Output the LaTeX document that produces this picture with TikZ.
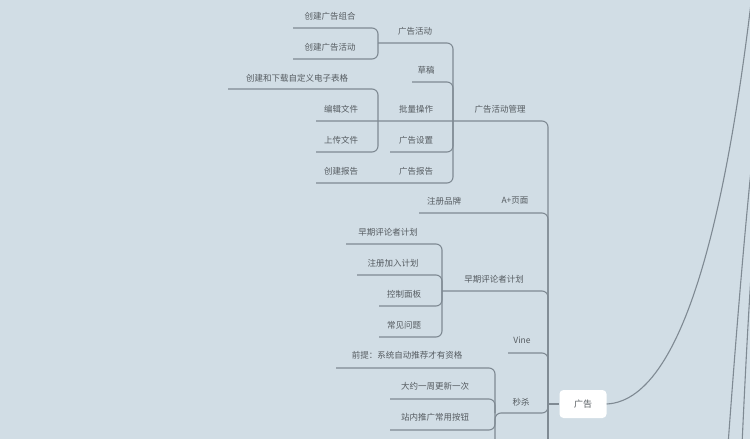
\documentclass[tikz,border=0pt]{standalone}
\usepackage{fontspec}
\newfontfamily\cjk{Noto Sans CJK SC}
\definecolor{bgcol}{HTML}{D1DDE5}
\definecolor{linecol}{HTML}{7F8A93}
\definecolor{txtcol}{HTML}{555B60}
\begin{document}
\begin{tikzpicture}[x=1pt,y=-1pt,
  lbl/.style={text=txtcol,font=\cjk\fontsize{8.5}{10}\selectfont,inner sep=0pt},
  link/.style={draw=linecol,line width=1.1pt,rounded corners=6pt},
  hub/.style={fill=white,rounded corners=4pt,minimum width=47pt,minimum height=28pt,text=txtcol,font=\cjk\fontsize{9}{11}\selectfont}]
			\fill[bgcol] (0,0) rectangle (750,439);
			\useasboundingbox (0,0) rectangle (750,439);

			% labels
			\node[lbl] (zuhe) at (330,16) {创建广告组合};
			\node[lbl] (huodong) at (330,47) {创建广告活动};
			\node[lbl] (ggActivity) at (415,31) {广告活动};
			\node[lbl] (caogao) at (426,70) {草稿};
			\node[lbl] (xiazai) at (297,78) {创建和下载自定义电子表格};
			\node[lbl] (bianji) at (341,109) {编辑文件};
			\node[lbl] (piliang) at (416,109) {批量操作};
			\node[lbl] (guanli) at (500,109) {广告活动管理};
			\node[lbl] (shangchuan) at (341,140) {上传文件};
			\node[lbl] (shezhi) at (416,140) {广告设置};
			\node[lbl] (cjBaogao) at (341,171) {创建报告};
			\node[lbl] (baogao) at (416,171) {广告报告};
			\node[lbl] (pinpai) at (444,201) {注册品牌};
			\node[lbl] (aplus) at (515,201) {A+页面};
			\node[lbl] (zaoqi) at (388,232) {早期评论者计划};
			\node[lbl] (jiaru) at (393,263) {注册加入计划};
			\node[lbl] (zaoqiMain) at (494,279) {早期评论者计划};
			\node[lbl] (mianban) at (404,294) {控制面板};
			\node[lbl] (wenti) at (404,325) {常见问题};
			\node[lbl] (vine) at (522,340) {Vine};
			\node[lbl] (qianti) at (407,355) {前提：系统自动推荐才有资格};
			\node[lbl] (gengxin) at (435,386) {大约一周更新一次};
			\node[lbl] (miaosha) at (521,402) {秒杀};
			\node[lbl] (anniu) at (435,417) {站内推广常用按钮};
			\node[hub] (ad) at (583,404) {广告};

			% branches
			\draw[link] (293,28) -- (378,28) -- (378,43);
			\draw[link] (293,59) -- (378,59) -- (378,43);
			\draw[link] (378,43) -- (453,43) -- (453,121);
			\draw[link] (412,82) -- (453,82) -- (453,121);
			\draw[link] (228,89) -- (378,89) -- (378,121);
			\draw[link] (316,152) -- (378,152) -- (378,121);
			\draw[link] (316,121) -- (548,121) -- (548,404);
			\draw[link] (390,152) -- (453,152) -- (453,121);
			\draw[link] (316,183) -- (453,183) -- (453,121);
			\draw[link] (419,213) -- (548,213) -- (548,404);
			\draw[link] (346,244) -- (442,244) -- (442,291);
			\draw[link] (357,275) -- (442,275) -- (442,291);
			\draw[link] (379,306) -- (442,306) -- (442,291);
			\draw[link] (379,337) -- (442,337) -- (442,291);
			\draw[link] (442,291) -- (548,291) -- (548,404);
			\draw[link] (508,353) -- (548,353) -- (548,404);
			\draw[link] (336,368) -- (495,368) -- (495,413);
			\draw[link] (390,399) -- (495,399) -- (495,413);
			\draw[link] (390,430) -- (495,430) -- (495,413);
			\draw[link] (495,450) -- (495,413) -- (548,413) -- (548,404);
			\draw[link] (548,450) -- (548,404);
			\draw[linecol,line width=1.1pt] (548,404) -- (ad.west);
			\draw[linecol,line width=1.1pt] (ad.east) .. controls (690,400) and (730,180) .. (752,-5);
			\draw[linecol,line width=1.1pt] (728,445) .. controls (735,350) and (742,260) .. (752,160);
			\draw[linecol,line width=1.1pt] (742,445) .. controls (745,380) and (748,320) .. (752,260);
\end{tikzpicture}
\end{document}
